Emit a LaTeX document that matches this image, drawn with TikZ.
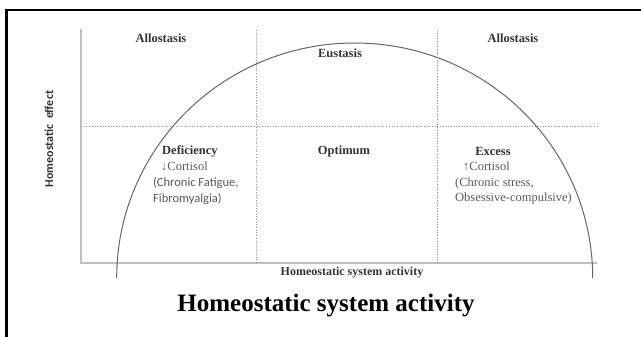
\documentclass[tikz,border=0pt]{standalone}
\usepackage{fontspec}
\setmainfont{Liberation Serif}
\newfontfamily\calib{Carlito}
\begin{document}
\begin{tikzpicture}[x=1pt,y=-1pt,
  lbl/.style={inner sep=0pt, font=\fontsize{12.5}{14}\selectfont\bfseries, text=black!80},
  note/.style={inner sep=0pt, anchor=west, font=\fontsize{12.5}{14}\selectfont, text=black!65},
  snote/.style={inner sep=0pt, anchor=west, font=\calib\fontsize{12.5}{14}\selectfont, text=black!65},
  axisline/.style={draw=black!25, line width=1.6pt},
  dotline/.style={draw=black!45, dotted, line width=0.7pt},
  curveline/.style={draw=black!60, line width=1pt},
  frameline/.style={draw=black, line width=2.2pt}]
\useasboundingbox (0,0) rectangle (641,337);
% frame
\coordinate (fb) at (6.5,337);
\coordinate (fc) at (6.5,10);
\coordinate (fr) at (641,10);
\draw[frameline] (fb) -- (fc) -- (fr);
% axes
\coordinate (ytop) at (81,29);
\coordinate (orig) at (81,263);
\coordinate (xend) at (597,263);
\draw[axisline] (ytop) -- (orig) -- (xend);
% dotted grid
\coordinate (v1t) at (256,30); \coordinate (v1b) at (256,263);
\coordinate (v2t) at (437,30); \coordinate (v2b) at (437,263);
\coordinate (hl) at (81,126); \coordinate (hr) at (597,126);
\draw[dotline] (v1t) -- (v1b);
\draw[dotline] (v2t) -- (v2b);
\draw[dotline] (hl) -- (hr);
% arc
\coordinate (lfoot) at (116.7,278);
\draw[curveline] (lfoot) arc[start angle=180, end angle=360, x radius=238, y radius=235];
% labels
\node[lbl] (allo1) at (161,38) {Allostasis};
\node[lbl] (allo2) at (513,38) {Allostasis};
\node[lbl] (eus) at (340,53) {Eustasis};
\node[lbl] (opt) at (344,151) {Optimum};
\node[lbl, anchor=west] (def) at (162,151) {Deficiency};
\node[note] (c1) at (161,166) {↓Cortisol};
\node[snote] (c2) at (153,183) {(Chronic Fatigue,};
\node[snote] (c3) at (153,199) {Fibromyalgia)};
\node[lbl] (exc) at (493,151) {Excess};
\node[note] (d1) at (463,166) {↑Cortisol};
\node[note] (d2) at (455,183) {(Chronic stress,};
\node[note] (d3) at (455,198) {Obsessive-compulsive)};
\node[lbl, font=\fontsize{12}{14}\selectfont\bfseries] (xl) at (352,273) {Homeostatic system activity};
\node[inner sep=0pt, rotate=90, font=\calib\fontsize{12}{14}\selectfont\bfseries, text=black!80] (yl) at (49,139) {Homeostatic\ \ effect};
\node[inner sep=0pt, font=\fontsize{25}{28}\selectfont\bfseries] (title) at (326,306) {Homeostatic system activity};
\end{tikzpicture}
\end{document}
